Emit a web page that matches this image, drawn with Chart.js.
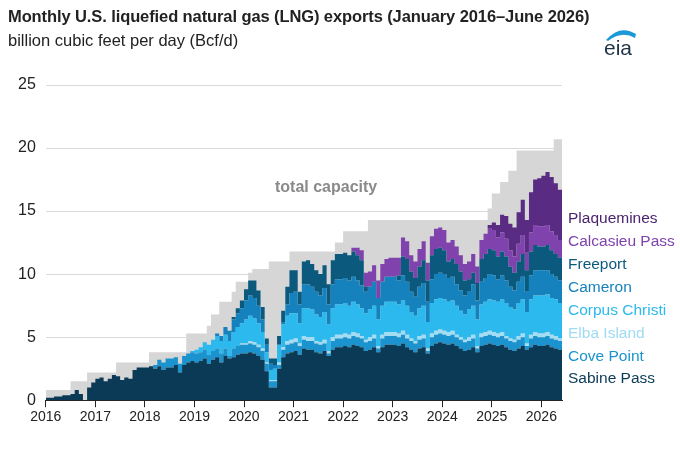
<!DOCTYPE html>
<html>
<head>
<meta charset="utf-8">
<script src="https://cdn.jsdelivr.net/npm/chart.js@4"></script>
<style>
  body { margin: 0; background: #fff; font-family: "Liberation Sans", Arial, sans-serif; }
  #wrap { position: relative; width: 680px; height: 450px; }
  #title { position: absolute; left: 8px; top: 7px; font-size: 16.5px; font-weight: bold; color: #222; letter-spacing: -0.1px; }
  #sub { position: absolute; left: 8px; top: 31px; font-size: 16.5px; color: #222; }
  canvas { position: absolute; left: 0; top: 0; }
  #logo { position: absolute; left: 602px; top: 22px; }
</style>
</head>
<body>
<div id="wrap">
  <canvas id="c" width="680" height="450"></canvas>
  <div id="title">Monthly U.S. liquefied natural gas (LNG) exports (January 2016–June 2026)</div>
  <div id="sub">billion cubic feet per day (Bcf/d)</div>
  <svg id="logo" width="40" height="36">
    <path d="M4 18 Q18 2 34 12 L33 16 Q20 8 6 19 Z" fill="#1a9ad6"/>
    <text x="2" y="33" font-family="Liberation Sans, Arial" font-size="21" fill="#1f3346">eia</text>
  </svg>
</div>
<script>
// months Jan 2016 .. Jun 2026
const yearTicks = ['2016','2017','2018','2019','2020','2021','2022','2023','2024','2025','2026'];

const sabinePass = [
  0.2,0.2,0.3,0.3,0.4,0.4,0.5,0.8,0.5,0.0,1.0,1.4,
  1.7,1.8,1.5,1.7,2.0,1.9,1.6,1.8,1.7,2.4,2.6,2.6,
  2.6,2.7,2.5,2.7,2.4,2.6,2.6,2.8,2.2,2.8,3.0,3.1,
  3.0,3.1,3.3,2.9,3.2,3.4,3.0,3.5,3.3,3.4,3.6,3.7,
  3.7,3.8,3.7,3.5,3.2,2.3,1.0,1.0,2.5,3.4,3.7,3.8,
  3.9,3.6,4.1,4.0,4.0,3.8,3.7,3.9,3.5,4.0,4.2,4.2,
  4.3,4.2,4.4,4.3,4.2,3.9,4.0,4.2,3.8,4.2,4.4,4.4,
  4.4,4.3,4.5,4.2,4.0,3.8,4.1,4.2,3.7,4.3,4.5,4.6,
  4.5,4.4,4.5,4.3,4.1,3.9,4.0,4.2,3.8,4.3,4.4,4.5,
  4.4,4.3,4.4,4.2,4.0,3.9,4.1,4.3,4.0,4.2,4.4,4.3,
  4.3,4.4,4.2,4.1,4.0,4.0
];
const covePoint = [
  0,0,0,0,0,0,0,0,0,0,0,0,
  0,0,0,0,0,0,0,0,0,0,0,0,
  0,0,0.3,0.5,0.6,0.7,0.7,0.6,0.7,0.7,0.7,0.7,
  0.7,0.7,0.7,0.7,0.7,0.7,0.7,0.6,0.2,0.7,0.7,0.7,
  0.7,0.7,0.7,0.7,0.7,0.6,0.5,0.5,0.3,0.6,0.7,0.7,
  0.7,0.7,0.7,0.7,0.7,0.7,0.7,0.6,0.2,0.7,0.7,0.7,
  0.7,0.7,0.7,0.7,0.7,0.7,0.7,0.7,0.3,0.7,0.7,0.7,
  0.7,0.7,0.7,0.7,0.7,0.7,0.7,0.7,0.2,0.7,0.7,0.7,
  0.7,0.7,0.7,0.7,0.7,0.7,0.7,0.7,0.3,0.7,0.7,0.7,
  0.7,0.7,0.7,0.7,0.7,0.7,0.7,0.7,0.3,0.7,0.7,0.7,
  0.7,0.7,0.7,0.7,0.7,0.7
];
const elbaIsland = [
  0,0,0,0,0,0,0,0,0,0,0,0,
  0,0,0,0,0,0,0,0,0,0,0,0,
  0,0,0,0,0,0,0,0,0,0,0,0,
  0,0,0,0,0,0,0,0,0,0,0,0.1,
  0.1,0.2,0.2,0.2,0.2,0.1,0.1,0.1,0.2,0.2,0.3,0.3,
  0.3,0.2,0.3,0.3,0.3,0.2,0.2,0.3,0.2,0.3,0.3,0.3,
  0.3,0.3,0.3,0.3,0.2,0.2,0.3,0.3,0.2,0.3,0.3,0.3,
  0.3,0.3,0.3,0.3,0.2,0.2,0.3,0.3,0.2,0.3,0.3,0.3,
  0.3,0.3,0.3,0.2,0.2,0.2,0.3,0.3,0.2,0.3,0.3,0.3,
  0.3,0.3,0.3,0.2,0.2,0.2,0.3,0.3,0.2,0.3,0.3,0.3,
  0.3,0.3,0.3,0.3,0.2,0.2
];
const corpusChristi = [
  0,0,0,0,0,0,0,0,0,0,0,0,
  0,0,0,0,0,0,0,0,0,0,0,0,
  0,0,0,0,0,0,0,0,0,0,0,0.1,
  0.3,0.4,0.6,0.8,0.9,1.0,1.0,1.1,1.2,1.3,1.5,1.6,
  1.9,2.0,1.9,1.7,1.3,0.8,0.8,0.9,1.4,1.8,2.0,2.1,
  2.0,1.6,2.2,2.3,2.2,2.1,2.0,2.2,2.1,2.3,2.4,2.4,
  2.4,2.3,2.4,2.3,2.2,2.1,2.2,2.3,2.1,2.3,2.4,2.4,
  2.4,2.3,2.4,2.3,2.1,2.0,2.2,2.3,2.1,2.4,2.5,2.5,
  2.5,2.4,2.4,2.3,2.1,2.0,2.2,2.3,2.1,2.3,2.4,2.5,
  2.5,2.5,2.6,2.6,2.5,2.4,2.6,2.7,2.5,2.8,2.9,3.0,
  3.0,3.0,2.9,2.9,2.8,2.8
];
const cameron = [
  0,0,0,0,0,0,0,0,0,0,0,0,
  0,0,0,0,0,0,0,0,0,0,0,0,
  0,0,0,0,0,0,0,0,0,0,0,0,
  0,0,0,0,0,0.2,0.4,0.6,0.8,1.0,1.1,1.2,
  1.5,1.6,1.6,1.4,1.0,0.6,0.5,0.3,0.0,0.2,0.9,1.6,
  1.7,1.5,1.9,1.9,1.8,1.8,1.7,1.9,1.6,1.9,2.0,2.0,
  2.0,2.0,2.0,1.9,1.8,1.7,1.8,1.9,1.7,1.9,2.0,2.0,
  2.0,1.9,2.0,1.9,1.6,1.5,1.7,1.8,1.6,1.9,2.0,2.0,
  2.0,1.9,1.9,1.7,1.6,1.5,1.4,1.7,1.5,1.8,1.9,2.0,
  2.0,1.8,1.9,1.8,1.6,1.5,1.7,1.8,1.6,1.9,2.0,2.0,
  2.0,1.9,1.9,1.8,1.8,1.7
];
const freeport = [
  0,0,0,0,0,0,0,0,0,0,0,0,
  0,0,0,0,0,0,0,0,0,0,0,0,
  0,0,0,0,0,0,0,0,0,0,0,0,
  0,0,0,0,0,0,0,0,0,0.2,0.4,0.6,
  0.9,1.2,1.4,1.2,1.0,0.5,0.4,0.5,0.7,0.9,1.4,1.8,
  1.7,1.0,1.8,1.9,1.8,1.7,1.7,1.8,1.6,1.9,2.0,2.0,
  2.0,2.0,2.0,2.0,2.0,0.4,0,0,0,0,0,0,
  0.0,0.4,1.5,1.8,1.6,1.5,1.6,1.8,1.7,1.9,2.0,2.0,
  1.9,1.3,1.4,1.6,1.5,1.2,1.0,0.9,1.4,1.8,1.9,2.0,
  2.0,1.8,1.9,1.9,1.6,1.4,1.6,1.8,1.7,1.9,2.0,1.9,
  1.9,2.0,1.9,1.8,1.8,1.7
];
const calcasieuPass = [
  0,0,0,0,0,0,0,0,0,0,0,0,
  0,0,0,0,0,0,0,0,0,0,0,0,
  0,0,0,0,0,0,0,0,0,0,0,0,
  0,0,0,0,0,0,0,0,0,0,0,0,
  0,0,0,0,0,0,0,0,0,0,0,0,
  0,0,0,0,0,0,0,0,0,0,0,0,
  0,0,0.3,0.6,0.8,1.1,1.2,1.3,1.4,1.4,1.4,1.5,
  1.5,1.4,1.5,1.4,1.3,1.3,1.4,1.5,1.4,1.5,1.6,1.6,
  1.6,1.5,1.5,1.4,1.3,1.3,1.4,1.5,1.3,1.5,1.6,1.6,
  1.6,1.5,1.5,1.4,1.3,1.3,1.4,1.5,1.4,1.5,1.6,1.6,
  1.6,1.6,1.5,1.5,1.4,1.4
];
const plaquemines = [
  0,0,0,0,0,0,0,0,0,0,0,0,
  0,0,0,0,0,0,0,0,0,0,0,0,
  0,0,0,0,0,0,0,0,0,0,0,0,
  0,0,0,0,0,0,0,0,0,0,0,0,
  0,0,0,0,0,0,0,0,0,0,0,0,
  0,0,0,0,0,0,0,0,0,0,0,0,
  0,0,0,0,0,0,0,0,0,0,0,0,
  0,0,0,0,0,0,0,0,0,0,0,0,
  0,0,0,0,0,0,0,0,0,0,0,0.3,
  0.6,1.0,1.4,1.8,2.1,2.3,2.5,2.8,2.6,3.2,3.6,3.8,
  4.0,4.2,4.3,4.1,4.0,3.4
];
const capacity = [
  0.8,0.8,0.8,0.8,0.8,0.8,1.5,1.5,1.5,1.5,2.2,2.2,
  2.2,2.2,2.2,2.2,2.2,3.0,3.0,3.0,3.0,3.0,3.0,3.0,
  3.0,3.8,3.8,3.8,3.8,3.8,3.8,3.8,3.8,3.8,5.3,5.3,
  5.3,5.3,5.3,5.9,6.8,6.8,7.8,7.8,7.8,8.6,9.4,9.4,
  9.4,10.1,10.4,10.4,10.4,10.4,11.0,11.0,11.0,11.0,11.0,11.8,
  11.8,11.8,11.8,11.8,11.8,11.8,11.8,11.8,11.8,11.8,12.5,12.5,
  13.4,13.4,13.4,13.4,13.4,13.4,14.3,14.3,14.3,14.3,14.3,14.3,
  14.3,14.3,14.3,14.3,14.3,14.3,14.3,14.3,14.3,14.3,14.3,14.3,
  14.3,14.3,14.3,14.3,14.3,14.3,14.3,14.3,14.3,14.3,14.3,15.2,
  16.4,16.4,17.3,17.3,18.2,18.2,19.8,19.8,19.8,19.8,19.8,19.8,
  19.8,19.8,19.8,20.7,20.7,20.7
];

const seriesNames = ['Sabine Pass','Cove Point','Elba Island','Corpus Christi','Cameron','Freeport','Calcasieu Pass','Plaquemines'];
const seriesData = [sabinePass, covePoint, elbaIsland, corpusChristi, cameron, freeport, calcasieuPass, plaquemines];
const seriesColors = ['#0a3a55','#1a93cf','#a3ddf3','#2cb9ee','#1682bd','#0b5a7e','#8043ad','#5a2b82'];
const legendColors = ['#0a3a55','#1a93cf','#9fdbf3','#2cb9ee','#1682bd','#0b5a7e','#8043ad','#4a2470'];

const toPoints = arr => arr.map((v, i) => ({ x: i, y: v })).concat([{ x: arr.length, y: arr[arr.length - 1] }]);

const datasets = seriesData.map((arr, i) => ({
  label: seriesNames[i],
  data: toPoints(arr),
  backgroundColor: seriesColors[i],
  borderWidth: 0,
  pointRadius: 0,
  stepped: true,
  fill: i === 0 ? 'origin' : '-1',
  yAxisID: 'y',
  order: 1
}));
datasets.push({
  label: 'total capacity',
  data: toPoints(capacity),
  backgroundColor: '#d6d6d6',
  borderWidth: 0,
  pointRadius: 0,
  stepped: true,
  fill: 'origin',
  yAxisID: 'y2',
  order: 10
});

const textPlugin = {
  id: 'texts',
  afterDraw(chart) {
    const ctx = chart.ctx;
    ctx.save();
    ctx.font = 'bold 16px "Liberation Sans", Arial';
    ctx.fillStyle = '#8a8a8a';
    ctx.fillText('total capacity', 275, 192);
    ctx.font = '15.5px "Liberation Sans", Arial';
    const ys = [378, 356, 333, 310, 287, 264, 241, 218];
    for (let i = seriesNames.length - 1; i >= 0; i--) {
      ctx.fillStyle = legendColors[i];
      ctx.fillText(seriesNames[i], 568, ys[i] + 5);
    }
    ctx.restore();
  }
};

new Chart(document.getElementById('c'), {
  type: 'line',
  data: { datasets },
  options: {
    responsive: false,
    animation: false,
    layout: { padding: { top: 85, right: 118, left: 8, bottom: 22 } },
    plugins: { legend: { display: false }, tooltip: { enabled: false } },
    scales: {
      x: {
        type: 'linear', min: 0, max: 125,
        afterBuildTicks: s => { s.ticks = yearTicks.map((t, i) => ({ value: i * 12 })); },
        ticks: { callback: (v) => yearTicks[v / 12], color: '#222', font: { size: 14, family: 'Liberation Sans' }, maxRotation: 0, autoSkip: false, padding: 2 },
        grid: { drawOnChartArea: false, color: '#222', tickLength: 7 },
        border: { color: '#222', width: 1 }
      },
      y: {
        stacked: true, min: 0, max: 25,
        ticks: { stepSize: 5, color: '#222', font: { size: 16, family: 'Liberation Sans' }, padding: 10 },
        grid: { color: '#d9d9d9', drawTicks: false },
        border: { display: false }
      },
      y2: { display: false, min: 0, max: 25, stacked: false }
    }
  },
  plugins: [textPlugin]
});
</script>
</body>
</html>
